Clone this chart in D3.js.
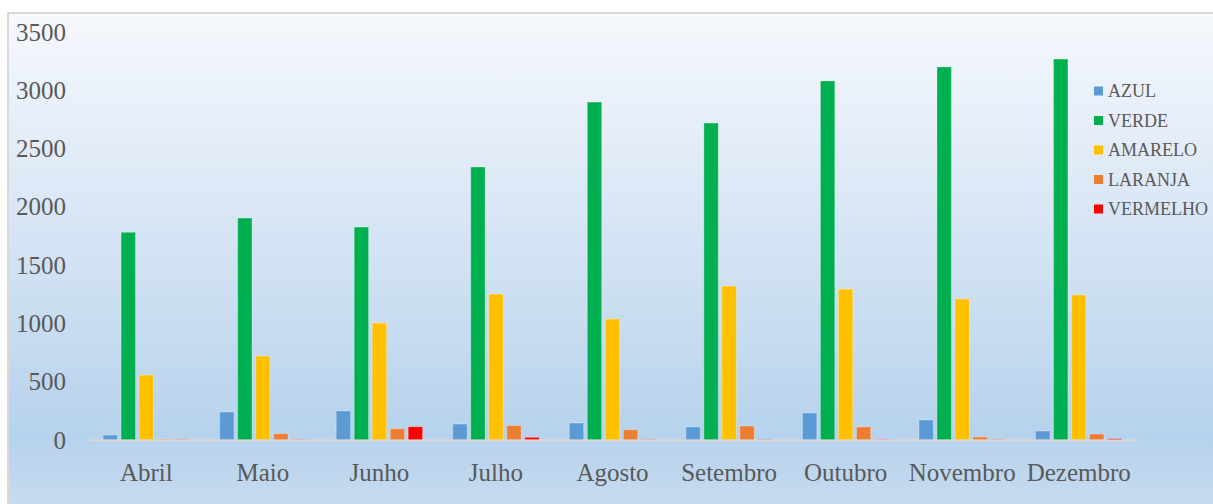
<!DOCTYPE html>
<html><head><meta charset="utf-8">
<script src="https://cdn.jsdelivr.net/npm/d3@7"></script>
<style>body{margin:0;background:#fff;}svg{display:block;}</style>
</head><body><svg id="c" width="1213" height="504"></svg>
<script>
const categories = ["Abril","Maio","Junho","Julho","Agosto","Setembro","Outubro","Novembro","Dezembro"];
const seriesNames = ["AZUL","VERDE","AMARELO","LARANJA","VERMELHO"];
const azul     = [43, 240, 249, 137, 146, 112, 232, 172, 77];
const verde    = [1782, 1904, 1827, 2342, 2899, 2719, 3080, 3200, 3268];
const amarelo  = [557, 720, 1004, 1252, 1038, 1321, 1295, 1210, 1244];
const laranja  = [8, 54, 97, 123, 88, 120, 112, 26, 51];
const vermelho = [4, 4, 114, 23, 4, 4, 4, 4, 11];
const yTicks = [0, 500, 1000, 1500, 2000, 2500, 3000, 3500];
const colors = ["#5b9bd5","#00b050","#ffc000","#ed7d31","#ff0000"];
const seriesValues = [azul, verde, amarelo, laranja, vermelho];

const svg = d3.select("#c");
const defs = svg.append("defs");
const grad = defs.append("linearGradient").attr("id","bg").attr("x1",0).attr("y1",0).attr("x2",0).attr("y2",1);
[[0,"#f6f9fd"],[0.2,"#e8eff9"],[0.5,"#d1e2f3"],[0.85,"#b6d2ec"],[1,"#c8dcf0"]].forEach(([o,c])=>grad.append("stop").attr("offset",o).attr("stop-color",c));

svg.append("rect").attr("x",8).attr("y",13).attr("width",1220).attr("height",500)
  .attr("fill","url(#bg)").attr("stroke","#d9d9d9").attr("stroke-width",2);

const x0 = d3.scaleBand().domain(categories).range([88,1137]);
const groupW = 90;
const x1 = d3.scaleBand().domain(seriesNames).range([0,groupW]).paddingInner(0.2).paddingOuter(0.1);
const y = d3.scaleLinear().domain([0,3500]).range([440,32]);

const fontFam = "'Liberation Serif','Times New Roman',serif";

// y axis labels
const yAxis = d3.axisLeft(y).tickValues(yTicks).tickFormat(d3.format("d")).tickSize(0).tickPadding(0);
const gy = svg.append("g").attr("transform","translate(66,0)").call(yAxis);
gy.select(".domain").remove();
gy.attr("font-family",null).attr("font-size",null);
gy.selectAll("text").style("font-family",fontFam).style("font-size","25px").attr("fill","#595959");

// bars
const groups = svg.append("g").selectAll("g").data(categories).join("g")
  .attr("transform",d=>`translate(${x0(d)+(x0.bandwidth()-groupW)/2},0)`);
groups.each(function(cat,ci){
  d3.select(this).selectAll("rect").data(seriesNames).join("rect")
    .attr("x",s=>x1(s))
    .attr("width",x1.bandwidth())
    .attr("y",(s,si)=>y(seriesValues[si][ci]))
    .attr("height",(s,si)=>y(0)-y(seriesValues[si][ci]))
    .attr("fill",(s,si)=>colors[si])
    .attr("stroke","rgba(255,255,255,0.3)").attr("stroke-width",1);
});

// baseline axis
const xAxis = d3.axisBottom(x0).tickSize(0).tickPadding(0);
const gx = svg.append("g").attr("transform","translate(0,440)").call(xAxis);
gx.attr("font-family",null).attr("font-size",null);
gx.select(".domain").attr("stroke","#d9d9d9").attr("stroke-width",2);
gx.selectAll("text").style("font-family",fontFam).style("font-size","25px").attr("fill","#595959")
  .attr("dy",null).attr("y",41);

// legend
const lg = svg.append("g").selectAll("g").data(seriesNames).join("g")
  .attr("transform",(d,i)=>`translate(1094,${91+i*29.5})`);
lg.append("rect").attr("x",0).attr("y",-4.5).attr("width",9).attr("height",9).attr("fill",(d,i)=>colors[i]);
lg.append("text").attr("x",14).attr("y",0).attr("dy","0.35em").text(d=>d)
  .style("font-family",fontFam).style("font-size","18px").attr("fill","#595959");
</script></body></html>
